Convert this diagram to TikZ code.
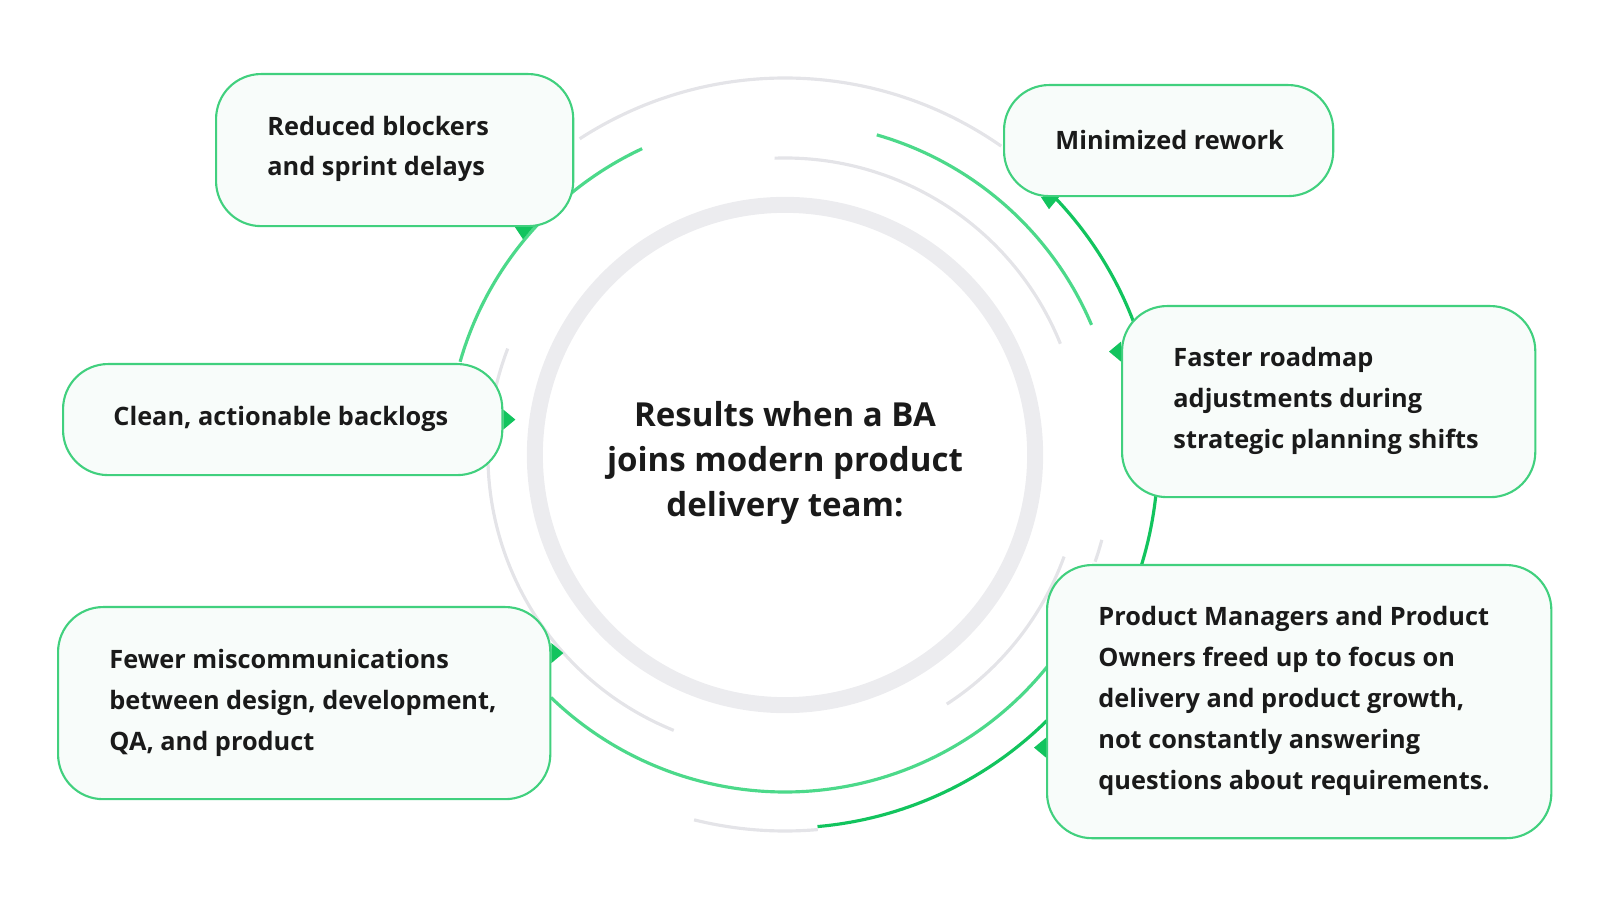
\documentclass[tikz,border=0pt]{standalone}
\usepackage{fontspec}
\setmainfont{Open Sans}
\usetikzlibrary{positioning}
\definecolor{ringgreen}{HTML}{4CD98A}
\definecolor{darkgreen}{HTML}{12C45E}
\definecolor{ringgray}{HTML}{E4E4E8}
\definecolor{boxfill}{HTML}{F8FCFA}
\definecolor{txt}{HTML}{1A1A1A}
\begin{document}
\begin{tikzpicture}[x=0.01cm,y=-0.01cm]
    \newcommand{\cx}[0]{785}
    \newcommand{\cy}[0]{455}

    \tikzstyle{card}=[
      rectangle,
      rounded corners=0.45cm,
      draw=darkgreen!80,
      fill=boxfill,
      line width=0.6pt,
      anchor=north west,
      inner sep=0pt,
    ]
    \tikzstyle{label}=[
      anchor=west,
      align=left,
      text=txt,
      font=\fontsize{7.2pt}{11.6pt}\selectfont\bfseries,
    ]
    \tikzstyle{tip}=[fill=darkgreen,draw=none]

    % rings (y axis points down, so angles are negated)
    \node[circle,draw=ringgray!70,line width=1.6mm,minimum size=5.0cm] (ring) at (\cx,\cy) {};
    \coordinate (c) at (\cx,\cy);
    \draw[ringgray,line width=0.9pt] (c) ++(-55:377) arc[start angle=-55,end angle=-123,radius=377];
    \draw[ringgreen,line width=0.9pt] (c) ++(-115:338) arc[start angle=-115,end angle=-164,radius=338];
    \draw[ringgreen,line width=0.9pt] (c) ++(-74:333) arc[start angle=-74,end angle=-23,radius=333];
    \draw[ringgray,line width=0.9pt] (c) ++(-92:297) arc[start angle=-92,end angle=-22,radius=297];
    \draw[ringgray,line width=0.9pt] (c) ++(20:297) arc[start angle=20,end angle=57,radius=297];
    \draw[darkgreen,line width=0.9pt] (c) ++(-44:373) arc[start angle=-44,end angle=85,radius=373];
    \draw[ringgray,line width=0.9pt] (c) ++(85:376) arc[start angle=85,end angle=104,radius=376];
    \draw[ringgreen,line width=0.9pt] (c) ++(134:337) arc[start angle=134,end angle=35,radius=337];
    \draw[ringgray,line width=0.9pt] (c) ++(-159:297) arc[start angle=-159,end angle=-248,radius=297];
    \draw[ringgray,line width=0.9pt] (c) ++(15:328) arc[start angle=15,end angle=19,radius=328];

    \node[text=txt,align=center,font=\fontsize{9.4pt}{12.8pt}\selectfont\bfseries] (title) at (\cx,463)
      {Results when a BA\\joins modern product\\delivery team:};

    % cards
    \node[card,minimum width=3.57cm,minimum height=1.52cm] (b1) at (215,73) {};
    \node[card,minimum width=3.29cm,minimum height=1.11cm] (b2) at (1003,84) {};
    \node[card,minimum width=4.39cm,minimum height=1.11cm] (b3) at (62,363) {};
    \node[card,minimum width=4.13cm,minimum height=1.91cm] (b4) at (1121,305) {};
    \node[card,minimum width=4.92cm,minimum height=1.92cm] (b5) at (57,606) {};
    \node[card,minimum width=5.04cm,minimum height=2.73cm] (b6) at (1046,564) {};

    \node[label] (t1) at (255,149) {Reduced blockers\\and sprint delays};
    \node[label] (t2) at (1043,140) {Minimized rework};
    \node[label] (t3) at (101,419) {Clean, actionable backlogs};
    \node[label] (t4) at (1161,401) {Faster roadmap\\adjustments during\\strategic planning shifts};
    \node[label] (t5) at (97,703) {Fewer miscommunications\\between design, development,\\QA, and product};
    \node[label] (t6) at (1086,701) {Product Managers and Product\\Owners freed up to focus on\\delivery and product growth,\\not constantly answering\\questions about requirements.};

    % pointers
    \fill[tip] (b1.south west) ++(300,0) -- ++(18,0) -- ++(-10,12) -- cycle;
    \fill[tip] (b2.south west) ++(38,0) -- ++(18,0) -- ++(-10,12) -- cycle;
    \fill[tip] (b3.east) ++(0,-10) -- ++(12,10) -- ++(-12,10) -- cycle;
    \fill[tip] (b4.west) ++(0,-60) -- ++(-12,10) -- ++(12,10) -- cycle;
    \fill[tip] (b5.east) ++(0,-60) -- ++(12,10) -- ++(-12,10) -- cycle;
    \fill[tip] (b6.west) ++(0,36) -- ++(-12,10) -- ++(12,10) -- cycle;

    \pgfresetboundingbox
    \useasboundingbox (0,0) rectangle (1600,922);
\end{tikzpicture}
\end{document}
